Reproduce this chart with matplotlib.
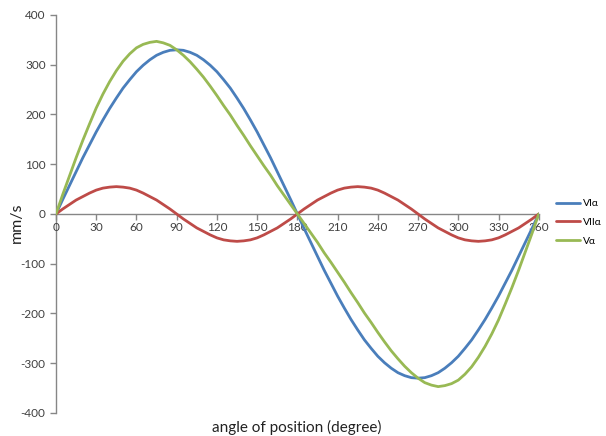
import matplotlib.pyplot as plt
import numpy as np

angle = list(range(0, 361, 5))
v1 = [0, 29, 57, 85, 113, 139, 165, 189, 212, 233, 253, 270, 286, 299, 310, 319, 325, 329, 330,
      329, 325, 319, 310, 299, 286, 270, 253, 233, 212, 189, 165, 139, 113, 85, 57, 29, 0,
      -29, -57, -85, -113, -139, -165, -189, -212, -233, -253, -270, -286, -299, -310, -319, -325, -329, -330,
      -329, -325, -319, -310, -299, -286, -270, -253, -233, -212, -189, -165, -139, -113, -85, -57, -29, 0]
v2 = [0, 10, 19, 28, 35, 42, 48, 52, 54, 55, 54, 52, 48, 42, 35, 28, 19, 10, 0,
      -10, -19, -28, -35, -42, -48, -52, -54, -55, -54, -52, -48, -42, -35, -28, -19, -10, 0,
      10, 19, 28, 35, 42, 48, 52, 54, 55, 54, 52, 48, 42, 35, 28, 19, 10, 0,
      -10, -19, -28, -35, -42, -48, -52, -54, -55, -54, -52, -48, -42, -35, -28, -19, -10, 0]
v_total = [0, 39, 76, 113, 148, 181, 213, 241, 266, 288, 307, 322, 334, 341, 345, 347, 344, 339, 330,
           319, 306, 291, 275, 257, 238, 218, 199, 178, 158, 137, 117, 97, 78, 57, 38, 19, 0,
           -19, -38, -57, -78, -97, -117, -137, -158, -178, -199, -218, -238, -257, -275, -291, -306, -319, -330,
           -339, -344, -347, -345, -341, -334, -322, -307, -288, -266, -241, -213, -181, -148, -113, -76, -39, 0]
labels = ['VIα', 'VIIα', 'Vα']
colors = ['#4A7EBB', '#BE4B48', '#98B954']

plt.rcParams['font.family'] = ['Lato', 'DejaVu Sans']
plt.rcParams['axes.unicode_minus'] = False

fig = plt.figure(figsize=(6.06, 4.36), dpi=100)
ax = fig.add_axes([0.0924, 0.0528, 0.7966, 0.9128])

for ys, lab, c in zip([v1, v2, v_total], labels, colors):
    ax.plot(angle, ys, color=c, linewidth=2.0, label=lab, solid_capstyle='round')

ax.set_xlim(0, 360)
ax.set_ylim(-400, 400)
ax.set_xticks(np.arange(0, 361, 30))
ax.set_yticks(np.arange(-400, 401, 100))

axis_gray = '#868686'
for side in ['top', 'right']:
    ax.spines[side].set_visible(False)
ax.spines['bottom'].set_position(('data', 0))
ax.spines['left'].set_position(('data', 0))
for side in ['bottom', 'left']:
    ax.spines[side].set_color(axis_gray)
    ax.spines[side].set_linewidth(1.0)
    ax.spines[side].set_zorder(0)

ax.tick_params(axis='both', colors=axis_gray, labelcolor='#404040',
               labelsize=8.5, length=4, width=1.0, direction='out')
ax.tick_params(axis='x', pad=2)

fig.text(0.028, 0.49, 'mm/s', fontsize=11.5, color='#222222',
         rotation=90, ha='center', va='center')
fig.text(0.49, 0.02, 'angle of position (degree)', fontsize=11,
         color='#222222', ha='center', va='center')

fig.legend(loc='center left', bbox_to_anchor=(0.918, 0.49), frameon=False,
           fontsize=7.5, handlelength=2.3, handletextpad=0.3, labelspacing=0.9,
           borderaxespad=0, borderpad=0)

fig.savefig('out.png', dpi=100)
